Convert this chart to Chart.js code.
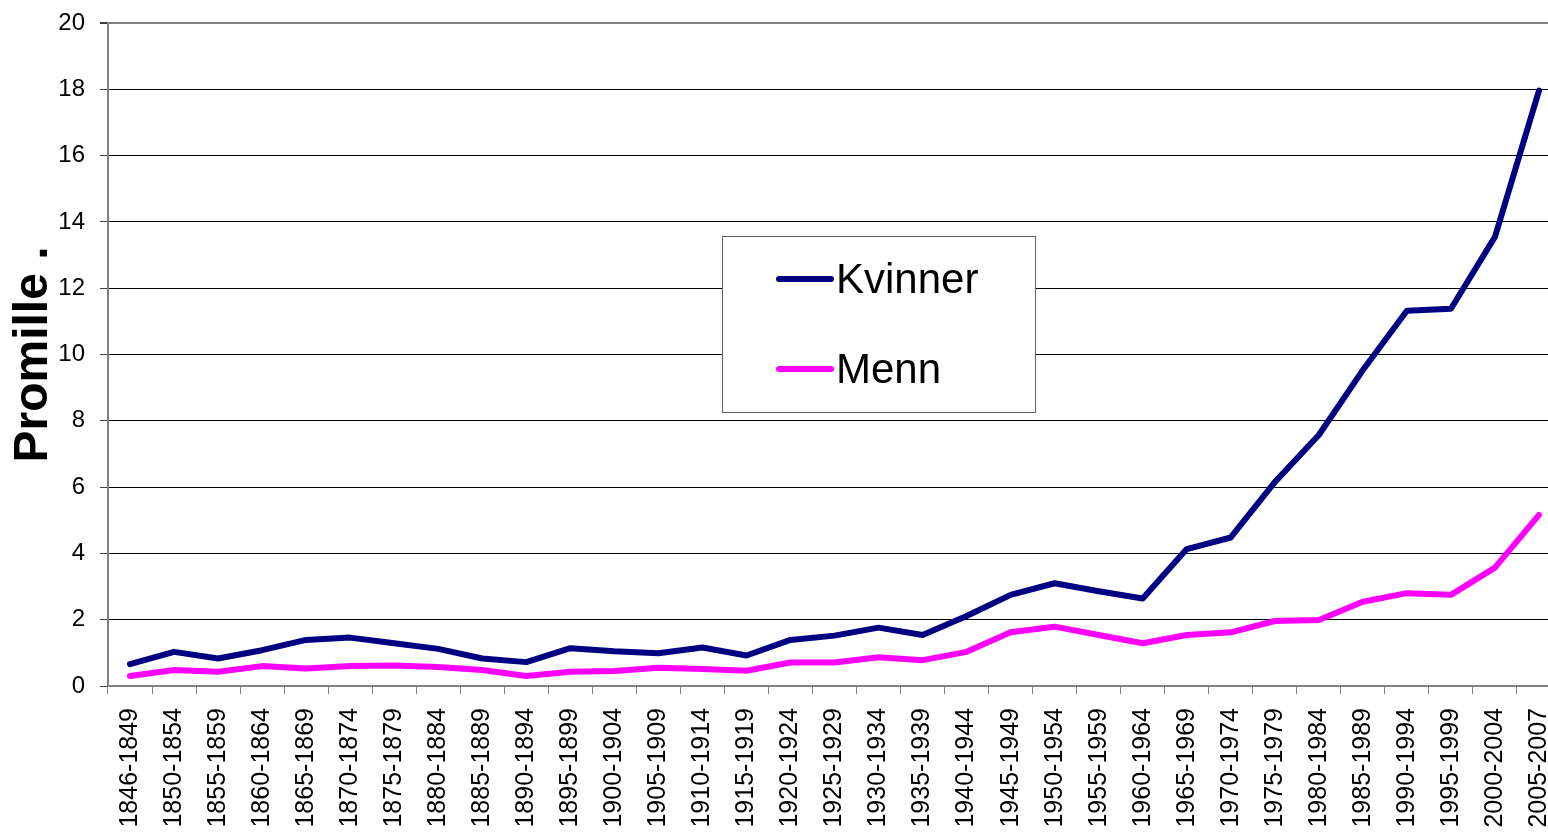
<!DOCTYPE html>
<html>
<head>
<meta charset="utf-8">
<script src="https://cdn.jsdelivr.net/npm/chart.js@4/dist/chart.umd.min.js"></script>
<style>
  html, body { margin: 0; padding: 0; background: #fff; overflow: hidden; }
  canvas { display: block; }
</style>
</head>
<body>
<canvas id="plots" width="1561" height="836"></canvas>
<script>
// Periods on the X-axis
var periods = ["1846-1849", "1850-1854", "1855-1859", "1860-1864", "1865-1869", "1870-1874",
  "1875-1879", "1880-1884", "1885-1889", "1890-1894", "1895-1899", "1900-1904", "1905-1909",
  "1910-1914", "1915-1919", "1920-1924", "1925-1929", "1930-1934", "1935-1939", "1940-1944",
  "1945-1949", "1950-1954", "1955-1959", "1960-1964", "1965-1969", "1970-1974", "1975-1979",
  "1980-1984", "1985-1989", "1990-1994", "1995-1999", "2000-2004", "2005-2007"];
// Promille
var kvinner = [0.66, 1.03, 0.83, 1.08, 1.39, 1.46, 1.29, 1.12, 0.83, 0.72, 1.14, 1.05, 0.99,
  1.16, 0.92, 1.39, 1.52, 1.76, 1.54, 2.11, 2.75, 3.1, 2.86, 2.64, 4.13, 4.48, 6.15,
  7.57, 9.53, 11.32, 11.38, 13.55, 17.96];
var menn = [0.3, 0.48, 0.43, 0.6, 0.53, 0.6, 0.62, 0.57, 0.48, 0.3, 0.43, 0.45, 0.55,
  0.51, 0.46, 0.71, 0.71, 0.87, 0.78, 1.03, 1.62, 1.79, 1.54, 1.29, 1.54, 1.62, 1.96,
  1.99, 2.54, 2.8, 2.75, 3.57, 5.16];
var yTicks = [0, 2, 4, 6, 8, 10, 12, 14, 16, 18, 20];

// legend box drawn inside the plot, like the original
var boxLegend = {
  id: 'boxLegend',
  afterDatasetsDraw: function(chart) {
    var ctx = chart.ctx;
    ctx.save();
    ctx.fillStyle = '#ffffff';
    ctx.fillRect(722, 236, 314, 177);
    ctx.strokeStyle = '#606060';
    ctx.lineWidth = 1;
    ctx.strokeRect(722.5, 236.5, 313, 176);
    var rows = [279, 369];
    chart.data.datasets.forEach(function(ds, i) {
      ctx.strokeStyle = ds.borderColor;
      ctx.lineWidth = 6;
      ctx.lineCap = 'round';
      ctx.beginPath();
      ctx.moveTo(779, rows[i]);
      ctx.lineTo(831, rows[i]);
      ctx.stroke();
      ctx.fillStyle = '#000';
      ctx.font = '42px "Liberation Sans", Arial, sans-serif';
      ctx.textBaseline = 'middle';
      ctx.textAlign = 'left';
      ctx.fillText(ds.label, 836, rows[i] + 2);
    });
    ctx.restore();
  }
};

new Chart(document.getElementById("plots"), {
  type: 'line',
  data: {
    labels: periods,
    datasets: [{
        label: 'Kvinner',
        data: kvinner,
        borderColor: '#000080',
        backgroundColor: '#000080',
        borderWidth: 6,
        pointRadius: 0,
        borderCapStyle: 'round',
        borderJoinStyle: 'round',
        fill: false
      },
      {
        label: 'Menn',
        data: menn,
        borderColor: '#FF00FF',
        backgroundColor: '#FF00FF',
        borderWidth: 6,
        pointRadius: 0,
        borderCapStyle: 'round',
        borderJoinStyle: 'round',
        fill: false
      }
    ]
  },
  options: {
    responsive: false,
    animation: false,
    layout: { padding: { top: 23, right: 0, bottom: 0, left: 0 } },
    plugins: {
      legend: { display: false },
      tooltip: { enabled: false }
    },
    scales: {
      x: {
        offset: true,
        grid: {
          offset: true,
          drawOnChartArea: false,
          drawTicks: true,
          tickLength: 8,
          color: '#808080',
          lineWidth: 1
        },
        border: { color: '#808080', width: 2 },
        ticks: {
          autoSkip: false,
          minRotation: 90,
          maxRotation: 90,
          padding: 14,
          color: '#000',
          font: { family: '"Liberation Sans", Arial, sans-serif', size: 25 }
        },
        afterFit: function(scale) {
          scale.height = 150;
          scale.paddingLeft = 0;
          scale.paddingRight = 0;
        }
      },
      y: {
        min: 0,
        max: 20,
        afterBuildTicks: function(scale) {
          scale.ticks = yTicks.map(function(v) { return { value: v }; });
        },
        grid: {
          color: function(c) { return c.tick && c.tick.value === 20 ? '#808080' : '#000'; },
          lineWidth: function(c) { return c.tick && c.tick.value === 20 ? 2 : 1; },
          tickColor: '#404040',
          tickLength: 8
        },
        border: { color: '#808080', width: 2 },
        ticks: {
          padding: 15,
          color: '#000',
          font: { family: '"Liberation Sans", Arial, sans-serif', size: 24 }
        },
        title: {
          display: true,
          text: 'Promille .',
          color: '#000',
          padding: { top: 5, bottom: 0 },
          font: { family: '"Liberation Sans", Arial, sans-serif', size: 48, weight: 'bold' }
        },
        afterFit: function(scale) {
          scale.width = 108;
          scale.paddingTop = 0;
          scale.paddingBottom = 0;
        }
      }
    }
  },
  plugins: [boxLegend]
});
</script>
</body>
</html>
